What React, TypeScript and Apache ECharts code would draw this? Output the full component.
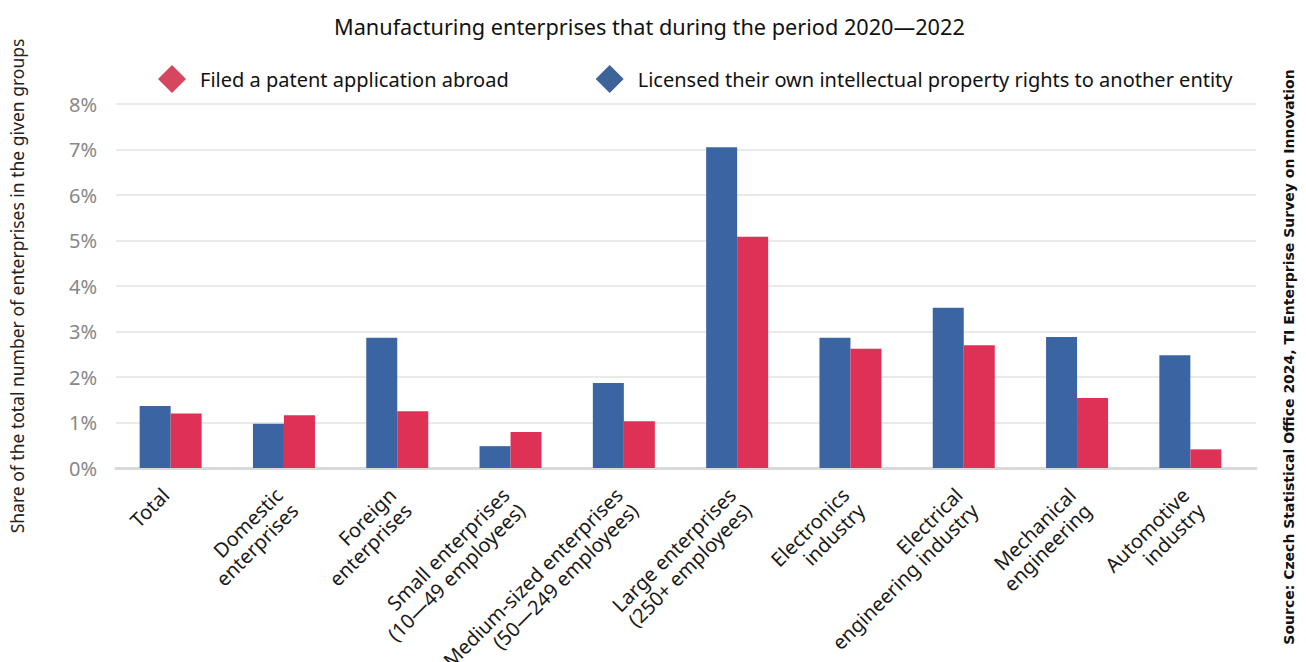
import React, { useEffect, useRef } from "react";
import * as echarts from "echarts";

const categories: string[] = [
  "Total",
  "Domestic\nenterprises",
  "Foreign\nenterprises",
  "Small enterprises\n(10—49 employees)",
  "Medium-sized enterprises\n(50—249 employees)",
  "Large enterprises\n(250+ employees)",
  "Electronics\nindustry",
  "Electrical\nengineering industry",
  "Mechanical\nengineering",
  "Automotive\nindustry",
];

const licensedValues: number[] = [1.36, 0.97, 2.86, 0.48, 1.87, 7.05, 2.86, 3.52, 2.88, 2.48];
const filedValues: number[] = [1.2, 1.16, 1.25, 0.79, 1.03, 5.08, 2.62, 2.7, 1.54, 0.41];

const yTicks: number[] = [0, 1, 2, 3, 4, 5, 6, 7, 8];

const TITLE = "Manufacturing enterprises that during the period 2020—2022";
const SERIES_FILED = "Filed a patent application abroad";
const SERIES_LICENSED = "Licensed their own intellectual property rights to another entity";
const Y_NAME = "Share of the total number of enterprises in the given groups";
const SOURCE = "Source: Czech Statistical Office 2024, TI Enterprise Survey on Innovation";

const BLUE = "#3B64A3";
const RED = "#DF3155";
const LEGEND_BLUE = "#3E6399";
const LEGEND_RED = "#D5475F";

export default function App() {
  const ref = useRef<HTMLDivElement>(null);
  useEffect(() => {
    document.body.style.margin = "0";
    if (!ref.current) return;
    const chart = echarts.init(ref.current, undefined, { renderer: "svg" });

    chart.setOption({
      animation: false,
      title: {
        text: TITLE,
        left: 329,
        top: 10,
        textStyle: { fontFamily: "Noto Sans", fontSize: 21.7, fontWeight: "normal", color: "#111" },
      },
      legend: {
        data: [
          { name: SERIES_FILED, itemStyle: { color: LEGEND_RED } },
          { name: SERIES_LICENSED, itemStyle: { color: LEGEND_BLUE } },
        ],
        top: 65,
        left: 158,
        padding: 0,
        icon: "diamond",
        itemWidth: 28,
        itemHeight: 28,
        itemGap: 87,
        textStyle: { fontFamily: "Noto Sans", fontSize: 20, color: "#111", padding: [0, 0, 0, 9] },
      },
      grid: [
        { left: 114, right: 59, top: 104, bottom: 194, containLabel: false, outerBoundsMode: "none" },
        { left: 116, right: 50, top: 104, bottom: 194, containLabel: false, outerBoundsMode: "none" },
      ],
      xAxis: [
        {
          type: "category",
          gridIndex: 0,
          data: categories,
          axisLine: { show: false },
          axisTick: { show: false },
          axisLabel: {
            interval: 0,
            rotate: 45,
            margin: 3,
            align: "right",
            verticalAlign: "top",
            padding: [0, 18, 0, 0],
            lineHeight: 22,
            fontFamily: "Noto Sans",
            fontSize: 20,
            color: "#1a1a1a",
          },
        },
        {
          type: "value",
          gridIndex: 1,
          min: 0,
          max: 1,
          axisLine: { show: true, lineStyle: { color: "#d9d9d9", width: 3 } },
          axisTick: { show: false },
          axisLabel: { show: false },
          splitLine: { show: false },
        },
      ],
      yAxis: [
        {
          type: "value",
          gridIndex: 0,
          min: yTicks[0],
          max: yTicks[yTicks.length - 1],
          interval: 1,
          name: Y_NAME,
          nameLocation: "middle",
          nameGap: 88,
          nameMoveOverlap: false,
          nameTextStyle: { fontFamily: "Noto Sans", fontSize: 17.5, color: "#222" },
          axisLine: { show: false },
          axisTick: { show: false },
          splitLine: { show: false },
          axisLabel: {
            margin: 17,
            formatter: "{value}%",
            fontFamily: "Noto Sans",
            fontSize: 20,
            color: "#878787",
          },
        },
        {
          type: "value",
          gridIndex: 1,
          min: yTicks[0],
          max: yTicks[yTicks.length - 1],
          interval: 1,
          axisLine: { show: false },
          axisTick: { show: false },
          axisLabel: { show: false },
          splitLine: { show: true, lineStyle: { color: "#e3e3e3", width: 1.5 } },
        },
      ],
      series: [
        {
          name: SERIES_LICENSED,
          type: "bar",
          xAxisIndex: 0,
          yAxisIndex: 0,
          data: licensedValues,
          barWidth: 31,
          barGap: "0%",
          itemStyle: { color: BLUE },
        },
        {
          name: SERIES_FILED,
          type: "bar",
          xAxisIndex: 0,
          yAxisIndex: 0,
          data: filedValues,
          barWidth: 31,
          barGap: "0%",
          itemStyle: { color: RED },
        },
      ],
      graphic: [
        {
          type: "text",
          x: 1289,
          y: 357,
          rotation: Math.PI / 2,
          style: {
            text: SOURCE,
            fontFamily: "DejaVu Sans",
            fontWeight: "bold",
            fontSize: 14,
            fill: "#111",
            align: "center",
            verticalAlign: "middle",
          },
        },
      ],
    });
    return () => chart.dispose();
  }, []);
  return <div ref={ref} style={{ width: 1306, height: 662 }} />;
}
